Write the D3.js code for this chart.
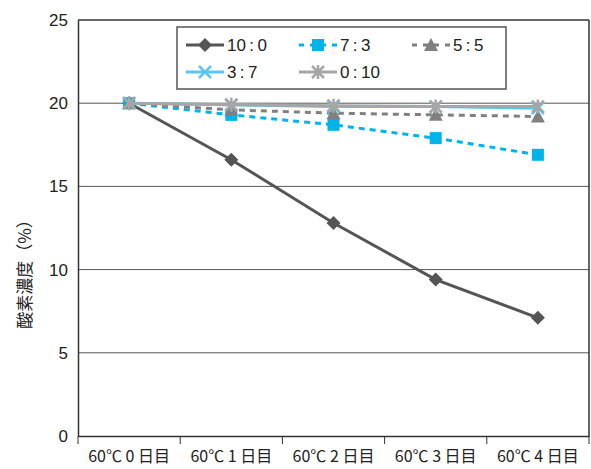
<!DOCTYPE html>
<html><head><meta charset="utf-8">
<script src="https://cdn.jsdelivr.net/npm/d3@7"></script>
<style>body{margin:0;background:#fff}svg{display:block}</style>
</head><body>
<script>
const categories = ["60℃ 0 日目","60℃ 1 日目","60℃ 2 日目","60℃ 3 日目","60℃ 4 日目"];
const s10_0 = [20, 16.6, 12.8, 9.4, 7.1];
const s7_3 = [20, 19.3, 18.7, 17.9, 16.9];
const s5_5 = [20, 19.6, 19.4, 19.3, 19.2];
const s3_7 = [20, 19.9, 19.8, 19.8, 19.7];
const s0_10 = [20, 19.9, 19.85, 19.8, 19.8];
const seriesNames = ["10：0","7：3","5：5","3：7","0：10"];
const yTicks = [0,5,10,15,20,25];

const series = [
  {name: seriesNames[0], values: s10_0, color:"#555555", dash:null, marker:"diamond", w:3},
  {name: seriesNames[1], values: s7_3, color:"#00b4ea", dash:"6,5", marker:"square", w:3},
  {name: seriesNames[2], values: s5_5, color:"#808080", dash:"6,5", marker:"triangle", w:3},
  {name: seriesNames[3], values: s3_7, color:"#5cc6ee", dash:null, marker:"x", w:3},
  {name: seriesNames[4], values: s0_10, color:"#a6a6a6", dash:null, marker:"star", w:3}
];

const W=591,H=469;
const L=78,R=589,T=20,B=436;
const svg=d3.select("body").append("svg").attr("width",W).attr("height",H);
const x=d3.scaleBand().domain(categories).range([L,R]).padding(0);
const y=d3.scaleLinear().domain([0,25]).range([B,T]);
const cx=c=>x(c)+x.bandwidth()/2;

// gridlines
svg.append("g").selectAll("line").data(yTicks.filter(d=>d>0&&d<25)).join("line")
  .attr("x1",L).attr("x2",R).attr("y1",d=>y(d)).attr("y2",d=>y(d))
  .attr("stroke","#555").attr("stroke-width",1);
// frame top and right
svg.append("line").attr("x1",L).attr("x2",R).attr("y1",T).attr("y2",T).attr("stroke","#333").attr("stroke-width",1.5);
svg.append("line").attr("x1",R).attr("x2",R).attr("y1",T).attr("y2",B).attr("stroke","#333").attr("stroke-width",1.5);

// y axis
const ya=svg.append("g").attr("transform",`translate(${L},0)`)
  .call(d3.axisLeft(y).tickValues(yTicks).tickSize(0).tickPadding(10));
ya.select(".domain").attr("stroke","#333").attr("stroke-width",1.5);
ya.selectAll("text").attr("font-family","Liberation Sans, Arial, sans-serif").attr("font-size",17).attr("fill","#222");

// x axis
const xa=svg.append("g").attr("transform",`translate(0,${B})`)
  .call(d3.axisBottom(x).tickSize(0).tickPadding(15));
xa.select(".domain").attr("stroke","#333").attr("stroke-width",1.5);
xa.selectAll("text").attr("font-family","Noto Sans CJK JP, sans-serif").attr("font-size",16).attr("fill","#222");
// category boundary ticks
const bounds=categories.map(c=>x(c)).concat([R]);
svg.append("g").selectAll("line").data(bounds).join("line")
  .attr("x1",d=>d).attr("x2",d=>d).attr("y1",B).attr("y2",B+8).attr("stroke","#333").attr("stroke-width",1);

// y title
svg.append("text").attr("transform",`translate(31,${(T+B)/2+42}) rotate(-90)`)
  .attr("text-anchor","middle").attr("font-family","Noto Sans CJK JP, sans-serif").attr("font-size",17).attr("fill","#222")
  .text("酸素濃度（%）");

function drawMarker(g,type,px,py,color){
  if(type==="diamond"){
    g.append("path").attr("d",`M${px},${py-7}L${px+7},${py}L${px},${py+7}L${px-7},${py}Z`).attr("fill",color);
  } else if(type==="square"){
    g.append("rect").attr("x",px-6).attr("y",py-6).attr("width",12).attr("height",12).attr("fill",color);
  } else if(type==="triangle"){
    g.append("path").attr("d",`M${px},${py-7}L${px+7},${py+6}L${px-7},${py+6}Z`).attr("fill",color);
  } else if(type==="x"){
    g.append("path").attr("d",`M${px-6},${py-6}L${px+6},${py+6}M${px-6},${py+6}L${px+6},${py-6}`).attr("stroke",color).attr("stroke-width",2.5);
  } else if(type==="star"){
    g.append("path").attr("d",`M${px-6},${py-6}L${px+6},${py+6}M${px-6},${py+6}L${px+6},${py-6}M${px},${py-7}L${px},${py+7}`).attr("stroke",color).attr("stroke-width",2.5);
  }
}

const line=d3.line().x((d,i)=>cx(categories[i])).y(d=>y(d));
series.forEach(s=>{
  const g=svg.append("g");
  g.append("path").attr("d",line(s.values)).attr("fill","none").attr("stroke",s.color)
    .attr("stroke-width",s.w).attr("stroke-dasharray",s.dash);
  s.values.forEach((v,i)=>drawMarker(g,s.marker,cx(categories[i]),y(v),s.color));
});

// legend
const lg=svg.append("g");
lg.append("rect").attr("x",177).attr("y",27).attr("width",329).attr("height",62)
  .attr("fill","#fff").attr("stroke","#555").attr("stroke-width",1.5);
const pos=[[186,45],[299,45],[412,45],[186,72],[299,72]];
series.forEach((s,k)=>{
  const [lx,ly]=pos[k];
  lg.append("line").attr("x1",lx).attr("x2",lx+38).attr("y1",ly).attr("y2",ly)
    .attr("stroke",s.color).attr("stroke-width",3).attr("stroke-dasharray",s.dash?"5,6":null);
  drawMarker(lg,s.marker,lx+19,ly,s.color);
  lg.append("text").attr("x",lx+41).attr("y",ly+6).attr("font-family","Liberation Sans, Arial, sans-serif")
    .attr("font-size",17).attr("fill","#222").text(s.name.replace("：","\u2009:\u2009"));
});
</script>
</body></html>
